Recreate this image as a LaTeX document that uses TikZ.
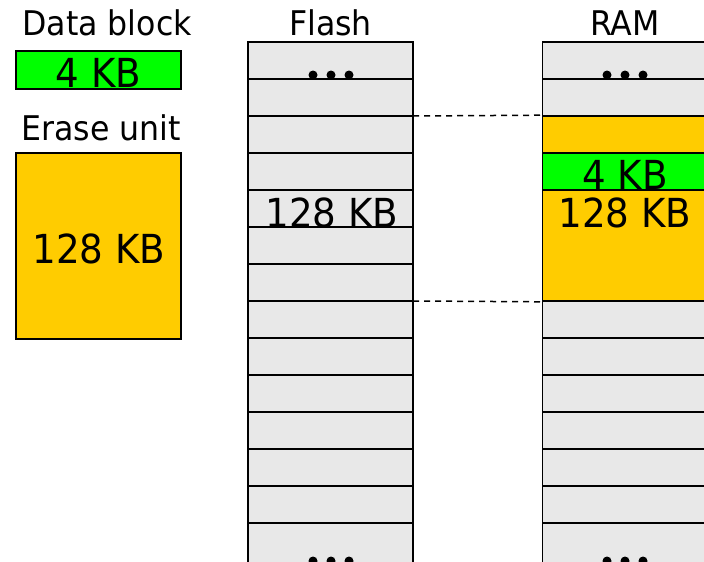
\documentclass[tikz,border=0pt]{standalone}
\usepackage{fontspec}
\setmainfont{DejaVu Sans}[FakeStretch=0.93]
\definecolor{cellgray}{HTML}{E8E8E8}
\definecolor{blockgreen}{HTML}{00FF00}
\definecolor{eraseorange}{HTML}{FFCC00}
\begin{document}
\begin{tikzpicture}[x=1pt,y=-1pt,
  rowbox/.style={draw=black,line width=1.6pt,fill=cellgray,minimum width=165pt,minimum height=37pt,inner sep=0pt,outer sep=0pt},
  lbl/.style={anchor=base,inner sep=0pt,font=\fontsize{34}{34}\selectfont},
  big/.style={anchor=base,inner sep=0pt,font=\fontsize{40}{40}\selectfont},
  dot/.style={fill=black,circle,inner sep=0pt,minimum size=9pt},
  link/.style={line width=1.5pt,dash pattern=on 6pt off 5pt}]
\useasboundingbox (0,0) rectangle (704,562);
\clip (0,0) rectangle (704,562);
% legend
\node[lbl] (tdb) at (107,35) {Data block};
\node[draw=black,line width=1.6pt,fill=blockgreen,minimum width=165pt,minimum height=38pt,inner sep=0pt] (lg) at (98.5,70) {};
\node[big] (tlg) at (98.5,87) {4 KB};
\node[lbl] (teu) at (101,140) {Erase unit};
\node[draw=black,line width=1.6pt,fill=eraseorange,minimum width=165pt,minimum height=186pt,inner sep=0pt] (lo) at (98.5,246) {};
\node[big] (tlo) at (99,263) {128 KB};
% titles
\node[lbl] (tf) at (330.5,35) {Flash};
\node[lbl] (tr) at (625,35) {RAM};
% rows
\foreach \i in {0,...,12}{
  \node[rowbox] (f\i) at (330.5,{60.5+37*\i}) {};
  \node[rowbox] (r\i) at (625,{60.5+37*\i}) {};
}
\node[rowbox,minimum height=45pt] (f13) at (330.5,545.5) {};
\node[rowbox,minimum height=45pt] (r13) at (625,545.5) {};
% RAM erase unit
\node[draw=black,line width=1.6pt,fill=eraseorange,minimum width=165pt,minimum height=185pt,inner sep=0pt] (ro) at (625,208.5) {};
\node[draw=black,line width=1.6pt,fill=blockgreen,minimum width=165pt,minimum height=37pt,inner sep=0pt] (rg) at (625,171.5) {};
\node[big] (trg) at (625,189) {4 KB};
\node[big] (tro) at (625,227) {128 KB};
\node[big] (tfl) at (332,227) {128 KB};
% dots
\foreach \c/\n in {313/a,331/b,349/c}{
  \node[dot] (fd\n) at (\c,75) {};
  \node[dot] (fe\n) at (\c,561) {};
}
\foreach \c/\n in {607/a,625/b,643/c}{
  \node[dot] (rd\n) at (\c,75) {};
  \node[dot] (re\n) at (\c,561) {};
}
% dashed connectors
\draw[link] (f2.north east) -- (ro.north west);
\draw[link] (f7.north east) -- (ro.south west);
\end{tikzpicture}
\end{document}
